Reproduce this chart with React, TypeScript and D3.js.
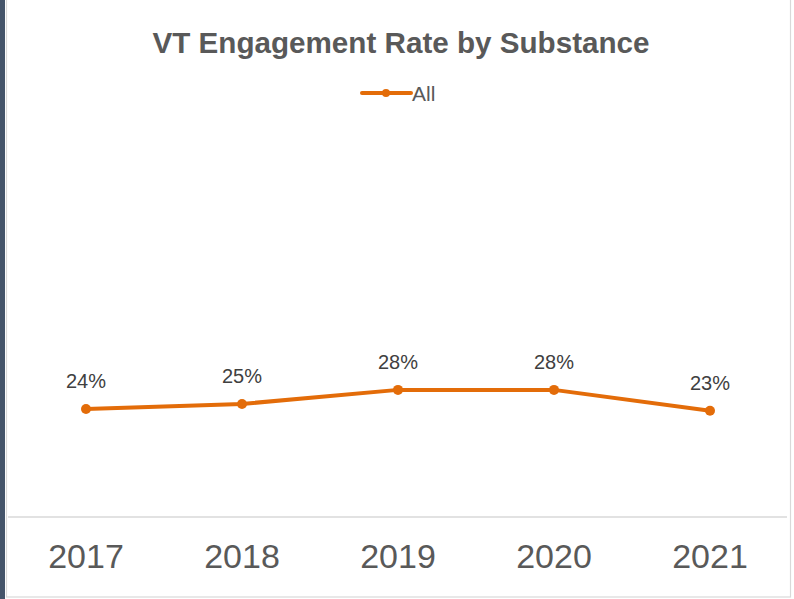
import React from "react";
import * as d3 from "d3";

const years = ["2017", "2018", "2019", "2020", "2021"];
const values = [0.238, 0.249, 0.28, 0.28, 0.234];
const labels = ["24%", "25%", "28%", "28%", "23%"];
const title = "VT Engagement Rate by Substance";
const seriesName = "All";

export default function App() {
  const W = 794, H = 599;
  const x = d3.scaleBand<string>().domain(years).range([8, 788]);
  const y = d3.scaleLinear().domain([0, 1]).range([517, 63]);
  const cx = (d: string) => (x(d) ?? 0) + x.bandwidth() / 2;
  const line = d3.line<number>().x((_, i) => cx(years[i])).y((v) => y(v));
  const orange = "#E36C09";
  const font = "'Liberation Sans', Arial, sans-serif";
  return (
    <div style={{ position: "fixed", left: 0, top: 0 }}>
      <svg width={W} height={H} style={{ display: "block" }}>
        <rect x={0} y={0} width={W} height={H} fill="#fff" />
        <rect x={0} y={0} width={5} height={H} fill="#44546A" />
        <rect x={6.5} y={-2} width={784} height={599} fill="none" stroke="#d9d9d9" strokeWidth={1.2} />
        <text x={401} y={53} textAnchor="middle" fontFamily={font} fontSize={29} fill="#595959"
          textLength={497} lengthAdjust="spacingAndGlyphs" style={{ fontWeight: 600 }}>{title}</text>
        <line x1={362} x2={411} y1={93} y2={93} stroke={orange} strokeWidth={4} strokeLinecap="round" />
        <circle cx={386} cy={93} r={4} fill={orange} />
        <text x={412} y={101} fontFamily={font} fontSize={21} fill="#595959">{seriesName}</text>
        <line x1={8} x2={787} y1={517} y2={517} stroke="#d9d9d9" strokeWidth={1.5} />
        <path d={line(values) ?? ""} fill="none" stroke={orange} strokeWidth={4} strokeLinejoin="round" />
        {values.map((v, i) => (
          <circle key={i} cx={cx(years[i])} cy={y(v)} r={5} fill={orange} />
        ))}
        {values.map((v, i) => (
          <text key={"l" + i} x={cx(years[i])} y={y(v) - 21} textAnchor="middle" fontFamily={font}
            fontSize={20} fill="#404040">{labels[i]}</text>
        ))}
        {years.map((yr) => (
          <text key={yr} x={cx(yr)} y={568} textAnchor="middle" fontFamily={font} fontSize={34} fill="#595959">{yr}</text>
        ))}
      </svg>
    </div>
  );
}
